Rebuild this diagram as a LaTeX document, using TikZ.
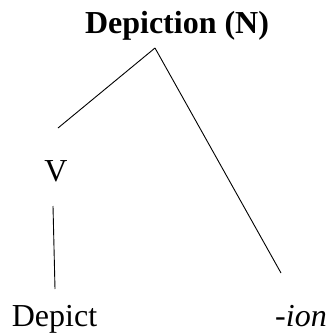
\documentclass[tikz,border=0pt]{standalone}
\usepackage{fontspec}
\setmainfont{Liberation Serif}
\usetikzlibrary{positioning, calc}

\begin{document}
\begin{tikzpicture}[
    x=1pt, y=-1pt,
    word/.style={font=\fontsize{32}{38}\selectfont, inner sep=0pt, anchor=base},
    branch/.style={line width=0.9pt}
]
    \useasboundingbox (0,0) rectangle (329,335);

    % Tree nodes
    \node[word, font=\fontsize{32}{38}\selectfont\bfseries] (noun) at (177,33) {Depiction (N)};
    \node[word] (verb) at (56,181) {V};
    \node[word] (stem) at (54.5,326) {Depict};
    \node[word] (suffix) at (301,326) {\itshape -ion};

    % Branch ends
    \coordinate (apex) at (155,48);
    \coordinate (vtop) at (58,128);
    \coordinate (vbot) at (53,206);
    \coordinate (stemtop) at (55,289);
    \coordinate (suffixtop) at (281,273);

    \draw[branch] (apex) -- (vtop);
    \draw[branch] (apex) -- (suffixtop);
    \draw[branch] (vbot) -- (stemtop);
\end{tikzpicture}
\end{document}
